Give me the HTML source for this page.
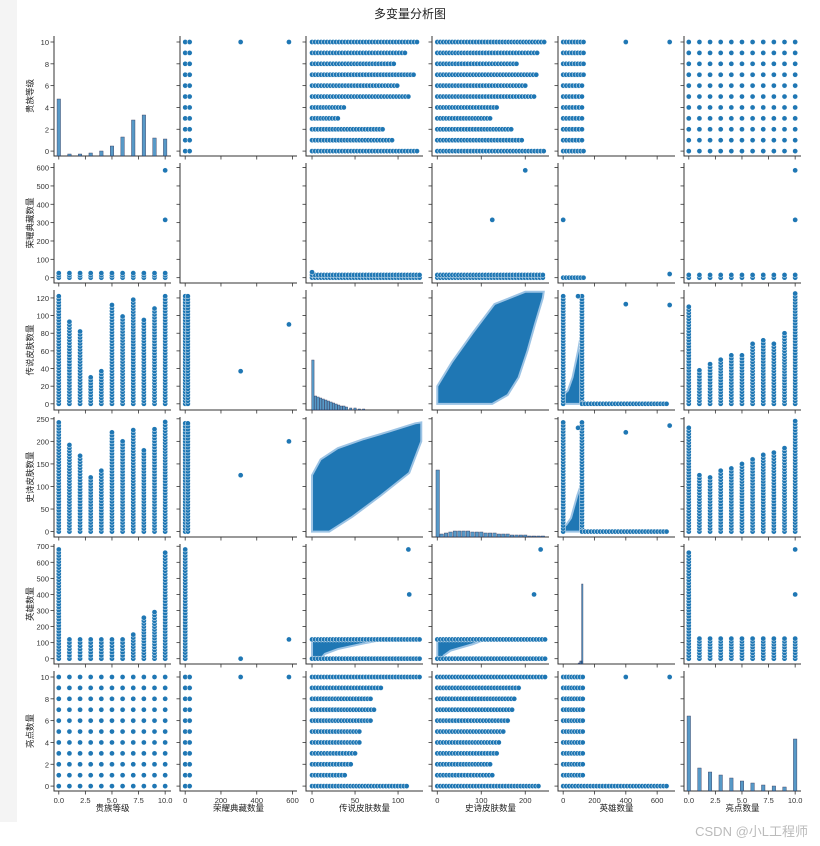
<!DOCTYPE html>
<html><head><meta charset="utf-8">
<style>
body{margin:0;background:#fff;font-family:"Liberation Sans","Noto Sans CJK SC",sans-serif;}
#wrap{position:relative;width:820px;height:846px;overflow:hidden}
</style></head>
<body>
<div id="wrap">
<svg id="fig" width="820" height="846" xmlns="http://www.w3.org/2000/svg">
<rect x="0" y="0" width="17" height="822" fill="#f4f4f4"/>
<text x="410" y="18" text-anchor="middle" font-size="12" fill="#222" font-family="Liberation Sans, Noto Sans CJK SC, sans-serif">多变量分析图</text>
<text x="808" y="836" text-anchor="end" font-size="13" fill="#bbb" font-family="Liberation Sans, Noto Sans CJK SC, sans-serif">CSDN @小L工程师</text>
</svg>
</div>
<script>
const vars=['贵族等级','荣耀典藏数量','传说皮肤数量','史诗皮肤数量','英雄数量','亮点数量'];
const levels=[0,1,2,3,4,5,6,7,8,9,10];
const legendMaxByNoble=[122,93,82,30,37,112,99,118,95,108,122];
const epicMaxByNoble=[242,192,168,120,135,220,200,225,180,227,243];
const heroMaxByNoble=[680,120,120,120,120,120,120,150,255,290,660];
const legendMaxByHighlight=[110,38,45,50,55,55,68,72,68,80,125];
const epicMaxByHighlight=[230,125,120,135,140,150,160,170,175,185,245];
const heroMaxByHighlight=[660,125,125,125,125,125,125,125,125,125,125];
const nobleCounts=[57,2,2,3,5,10,19,36,41,18,17];
const highlightCounts=[75,23,19,16,13,10,8,6,5,4,52];
const legendHistCenters=[1,4,7,10,13,16,19,22,25,28,31,34,37,40,45,50,55,60];
const legendHistCounts=[50,14,13,12,11,10,9,8,7,6,5,4,4,3,2,2,1,1];
const epicHistCenters=[1,10,20,30,40,50,60,70,80,90,100,110,120,130,140,150,160,170,180,190,200,210,220,230,240];
const epicHistCounts=[67,3,4,5,6,6,6,6,5,5,5,4,4,4,3,3,3,2,2,2,2,1,1,1,1];
const heroHistCenters=[100,110,118,122];
const heroHistCounts=[1,3,3,80];
const blobLegendEpic=[[0,0],[0,125],[10,160],[30,185],[60,205],[90,222],[120,240],[127,242],[127,200],[113,130],[80,80],[47,33],[20,0]];
const blobHeroLegend=[[0,0],[120,0],[120,85],[95,60],[60,30],[30,15],[0,10]];
const blobHeroEpic=[[0,0],[120,0],[120,110],[90,80],[50,30],[20,15],[0,10]];

const NS='http://www.w3.org/2000/svg';
const svg=document.getElementById('fig');
const colX=[54,180,306,432,558,684],rowY=[36,163,290,417,544,671],W=117,H=120;
const dom=[[-0.45,10.55],[-29,625],[-7,129],[-12,254],[-33,714],[-0.45,10.55]];
const xt=[[0,2.5,5,7.5,10],[0,200,400,600],[0,50,100],[0,100,200],[0,200,400,600],[0,2.5,5,7.5,10]];
const yt=[[0,2,4,6,8,10],[0,100,200,300,400,500,600],[0,20,40,60,80,100,120],[0,50,100,150,200,250],[0,100,200,300,400,500,600,700],[0,2,4,6,8,10]];
function sx(c,v){return colX[c]+(v-dom[c][0])/(dom[c][1]-dom[c][0])*W;}
function sy(r,v){return rowY[r]+H-(v-dom[r][0])/(dom[r][1]-dom[r][0])*H;}
function mk(t,a){const e=document.createElementNS(NS,t);for(const k in a)e.setAttribute(k,a[k]);svg.appendChild(e);return e;}
function dot(r,c,x,y){const e=mk('circle',{cx:sx(c,x),cy:sy(r,y),r:2.6,fill:'#1f77b4',stroke:'#fff','stroke-width':0.5});

}
function vstrip(r,c,x,y0,y1){const p0=sy(r,y0),p1=sy(r,y1);const n=Math.max(1,Math.round((p0-p1)/3));for(let i=0;i<=n;i++){dot(r,c,x,y0+(y1-y0)*i/n);}}
function hstrip(r,c,y,x0,x1){const p0=sx(c,x0),p1=sx(c,x1);const n=Math.max(1,Math.round((p1-p0)/3));for(let i=0;i<=n;i++){dot(r,c,x0+(x1-x0)*i/n,y);}}
function blob(r,c,pts,swap){const s=pts.map(p=>swap?[p[1],p[0]]:p).map(p=>sx(c,p[0])+','+sy(r,p[1])).join(' ');
const e=mk('polygon',{points:s,fill:'#1f77b4',stroke:'#9cc3e4','stroke-width':2});

}
function hist(r,c,centers,counts,bw){const base=rowY[r]+H;centers.forEach((v,i)=>{const x=sx(c,v);const e=mk('rect',{x:x-bw/2,y:base-counts[i],width:bw,height:counts[i],fill:'#1f77b4','fill-opacity':0.75,stroke:'#335','stroke-width':0.4});

});}

for(let r=0;r<6;r++)for(let c=0;c<6;c++){
 const x0=colX[c],y0=rowY[r];
 const g=mk('path',{d:`M${x0},${y0} V${y0+H} H${x0+W}`,fill:'none',stroke:'#333','stroke-width':1});
 
 
 yt[r].forEach(v=>{const y=sy(r,v);mk('line',{x1:x0-3.5,x2:x0,y1:y,y2:y,stroke:'#333','stroke-width':0.8});
  if(c===0){const t=mk('text',{x:x0-5,y:y+3,'text-anchor':'end','font-size':7.5,fill:'#333'});t.textContent=v;
  
  }});
 xt[c].forEach(v=>{const x=sx(c,v);mk('line',{x1:x,x2:x,y1:y0+H,y2:y0+H+3.5,stroke:'#333','stroke-width':0.8});
  if(r===5){const t=mk('text',{x:x,y:y0+H+12,'text-anchor':'middle','font-size':7.5,fill:'#333'});t.textContent=(c===0||c===5)?v.toFixed(1):v;
  
  }});
}
vars.forEach((n,i)=>{
 const t=mk('text',{x:colX[i]+W/2,y:811,'text-anchor':'middle','font-size':8.5,fill:'#222'});t.textContent=n;
 
 
 const cy=rowY[i]+H/2;
 const u=mk('text',{x:33,y:cy,'text-anchor':'middle','font-size':8.5,fill:'#222',transform:`rotate(-90 33 ${cy})`});u.textContent=n;
 
 
});

hist(0,0,levels,nobleCounts,3.5);
hist(5,5,levels,highlightCounts,3.5);
hist(2,2,legendHistCenters,legendHistCounts,2.4);
hist(3,3,epicHistCenters,epicHistCounts,3.5);
hist(4,4,heroHistCenters,heroHistCounts,1.4);

blob(3,2,blobLegendEpic,false);blob(2,3,blobLegendEpic,true);
blob(2,4,blobHeroLegend,false);blob(4,2,blobHeroLegend,true);
blob(3,4,blobHeroEpic,false);blob(4,3,blobHeroEpic,true);

levels.forEach((l,i)=>{
 hstrip(0,1,l,0,25);vstrip(1,0,l,0,25);
 hstrip(0,2,l,0,legendMaxByNoble[i]);vstrip(2,0,l,0,legendMaxByNoble[i]);
 hstrip(0,3,l,0,epicMaxByNoble[i]);vstrip(3,0,l,0,epicMaxByNoble[i]);
 hstrip(0,4,l,0,Math.min(130,heroMaxByNoble[i]));vstrip(4,0,l,0,heroMaxByNoble[i]);
 levels.forEach(m=>{dot(0,5,m,l);dot(5,0,m,l);});
 dot(1,5,l,0);dot(1,5,l,15);hstrip(5,1,l,0,25);
 vstrip(2,5,l,0,legendMaxByHighlight[i]);hstrip(5,2,l,0,legendMaxByHighlight[i]);
 vstrip(3,5,l,0,epicMaxByHighlight[i]);hstrip(5,3,l,0,epicMaxByHighlight[i]);
 vstrip(4,5,l,0,heroMaxByHighlight[i]);hstrip(5,4,l,0,heroMaxByHighlight[i]);
});
[[310,10],[580,10]].forEach(p=>{dot(0,1,p[0],p[1]);dot(5,1,p[0],p[1]);});
[[10,315],[10,585]].forEach(p=>{dot(1,0,p[0],p[1]);dot(1,5,p[0],p[1]);});
[[400,10],[680,10]].forEach(p=>{dot(0,4,p[0],p[1]);dot(5,4,p[0],p[1]);dot(4,5,p[1],p[0]);});
vstrip(2,1,0,0,122);vstrip(2,1,15,0,122);dot(2,1,310,37);dot(2,1,580,90);
hstrip(1,2,0,0,125);hstrip(1,2,15,0,125);dot(1,2,0,30);
vstrip(3,1,0,0,240);vstrip(3,1,15,0,240);dot(3,1,310,125);dot(3,1,580,200);
hstrip(1,3,0,0,240);hstrip(1,3,15,0,240);dot(1,3,125,315);dot(1,3,200,585);
vstrip(4,1,0,0,680);dot(4,1,310,0);dot(4,1,580,120);
hstrip(1,4,0,0,130);dot(1,4,0,315);dot(1,4,680,20);
vstrip(2,4,0,0,122);vstrip(2,4,120,0,122);hstrip(2,4,0,120,660);dot(2,4,400,113);dot(2,4,680,112);dot(2,4,95,122);
hstrip(4,2,120,0,125);hstrip(4,2,0,0,125);dot(4,2,113,400);dot(4,2,112,680);
vstrip(3,4,0,0,242);vstrip(3,4,120,0,242);hstrip(3,4,0,120,660);dot(3,4,400,220);dot(3,4,680,235);dot(3,4,95,230);
hstrip(4,3,120,0,245);hstrip(4,3,0,0,245);dot(4,3,220,400);dot(4,3,235,680);
</script>
</body></html>
